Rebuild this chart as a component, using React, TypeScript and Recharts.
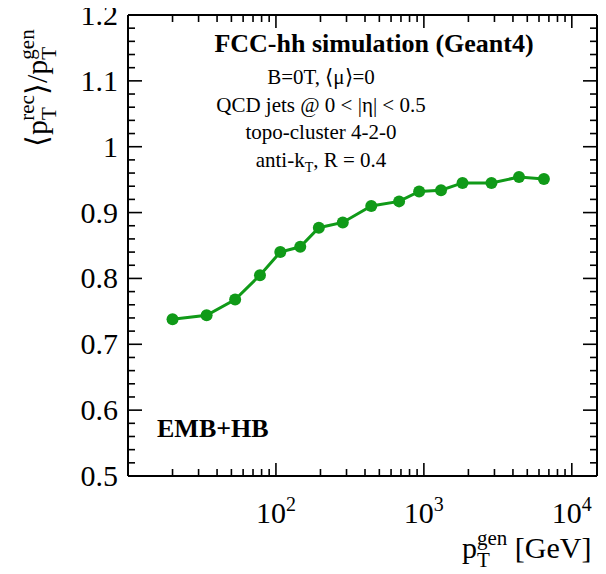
import { Line, LineChart, XAxis, YAxis } from "recharts"

// pT^gen bin centres [GeV] and mean response <pT^rec>/<pT^gen>
const ptGen = [20, 34, 53, 78, 107, 146, 195, 283, 441, 680, 929, 1306, 1825, 2862, 4397, 6478]
const response = [0.738, 0.744, 0.768, 0.805, 0.84, 0.848, 0.877, 0.885, 0.91, 0.917, 0.932, 0.934, 0.945, 0.945, 0.954, 0.951]

const xTicks = [
  20, 30, 40, 50, 60, 70, 80, 90, 100,
  200, 300, 400, 500, 600, 700, 800, 900, 1000,
  2000, 3000, 4000, 5000, 6000, 7000, 8000, 9000, 10000,
]
const xMajor = [100, 1000, 10000]
const xMajorExp = ["2", "3", "4"]

const yTicks = [
  0.5, 0.52, 0.54, 0.56, 0.58, 0.6, 0.62, 0.64, 0.66, 0.68, 0.7, 0.72, 0.74, 0.76, 0.78,
  0.8, 0.82, 0.84, 0.86, 0.88, 0.9, 0.92, 0.94, 0.96, 0.98, 1, 1.02, 1.04, 1.06, 1.08,
  1.1, 1.12, 1.14, 1.16, 1.18, 1.2,
]
const yMajor = [0.5, 0.6, 0.7, 0.8, 0.9, 1, 1.1, 1.2]
const yMajorLabels = ["0.5", "0.6", "0.7", "0.8", "0.9", "1", "1.1", "1.2"]

const rows = ptGen.map((pt, i) => ({ pt, ratio: response[i] }))

const FONT = "'Liberation Serif', 'Times New Roman', serif"
const GREEN = "#109a18"
const MAJOR = 13
const MINOR = 7

const isMajor = (list: number[], v: number) => list.findIndex((m) => Math.abs(m - v) < 1e-6)

const BottomTick = ({ x, y, payload }: any) => {
  const idx = isMajor(xMajor, payload.value)
  return (
    <g>
      <line x1={x} x2={x} y1={y} y2={y - (idx >= 0 ? MAJOR : MINOR)} stroke="#000" strokeWidth={1.6} />
      {idx >= 0 && (
        <text x={x} y={y + 47} textAnchor="middle" fontFamily={FONT} fontSize={30} fill="#000">
          10
          <tspan dy={-12} fontSize={20}>
            {xMajorExp[idx]}
          </tspan>
        </text>
      )}
    </g>
  )
}

const TopTick = ({ x, y, payload }: any) => {
  const idx = isMajor(xMajor, payload.value)
  return <line x1={x} x2={x} y1={y} y2={y + (idx >= 0 ? MAJOR : MINOR)} stroke="#000" strokeWidth={1.6} />
}

const LeftTick = ({ x, y, payload }: any) => {
  const idx = isMajor(yMajor, payload.value)
  return (
    <g>
      <line x1={x} x2={x + (idx >= 0 ? MAJOR + 1 : MINOR)} y1={y} y2={y} stroke="#000" strokeWidth={1.6} />
      {idx >= 0 && (
        <text x={x - 10} y={y + 10} textAnchor="end" fontFamily={FONT} fontSize={30} fill="#000">
          {yMajorLabels[idx]}
        </text>
      )}
    </g>
  )
}

const RightTick = ({ x, y, payload }: any) => {
  const idx = isMajor(yMajor, payload.value)
  return <line x1={x} x2={x - (idx >= 0 ? MAJOR + 1 : MINOR)} y1={y} y2={y} stroke="#000" strokeWidth={1.6} />
}

const axisLine = { stroke: "#000", strokeWidth: 2 }

export default function App() {
  return (
    <div style={{ position: "relative", width: 606, height: 574, margin: "-8px 0 0 -8px" }}>
      <LineChart width={606} height={574} data={rows} margin={{ top: 0, right: 0, bottom: 0, left: 0 }}>
        <XAxis
          xAxisId="bottom"
          dataKey="pt"
          type="number"
          scale="log"
          domain={[10, 14800]}
          allowDataOverflow
          ticks={xTicks}
          interval={0}
          tick={(p: any) => <BottomTick {...p} />}
          tickLine={false}
          tickSize={0}
          tickMargin={0}
          axisLine={axisLine}
          height={98}
        />
        <XAxis
          xAxisId="top"
          orientation="top"
          dataKey="pt"
          type="number"
          scale="log"
          domain={[10, 14800]}
          allowDataOverflow
          ticks={xTicks}
          interval={0}
          tick={(p: any) => <TopTick {...p} />}
          tickLine={false}
          tickSize={0}
          tickMargin={0}
          axisLine={axisLine}
          height={15}
        />
        <YAxis
          yAxisId="left"
          type="number"
          domain={[0.5, 1.2]}
          allowDataOverflow
          ticks={yTicks}
          interval={0}
          tick={(p: any) => <LeftTick {...p} />}
          tickLine={false}
          tickSize={0}
          tickMargin={0}
          axisLine={axisLine}
          width={128}
        />
        <YAxis
          yAxisId="right"
          orientation="right"
          type="number"
          domain={[0.5, 1.2]}
          allowDataOverflow
          ticks={yTicks}
          interval={0}
          tick={(p: any) => <RightTick {...p} />}
          tickLine={false}
          tickSize={0}
          tickMargin={0}
          axisLine={axisLine}
          width={9}
        />
        <Line
          xAxisId="top"
          yAxisId="right"
          dataKey="ratio"
          stroke="none"
          dot={false}
          activeDot={false}
          isAnimationActive={false}
        />
        <Line
          xAxisId="bottom"
          yAxisId="left"
          dataKey="ratio"
          stroke={GREEN}
          strokeWidth={3}
          dot={{ r: 6, fill: GREEN, stroke: GREEN, strokeWidth: 0 }}
          activeDot={false}
          isAnimationActive={false}
        />
      </LineChart>
      <svg
        width={606}
        height={574}
        style={{ position: "absolute", left: 0, top: 0, pointerEvents: "none" }}
        fontFamily={FONT}
        fill="#000"
      >
        <text x={374} y={52} textAnchor="middle" fontSize={26} fontWeight="bold">
          FCC-hh simulation (Geant4)
        </text>
        <text x={321} y={84} textAnchor="middle" fontSize={21}>
          B=0T, ⟨μ⟩=0
        </text>
        <text x={321} y={111.5} textAnchor="middle" fontSize={21}>
          QCD jets @ 0 &lt; |η| &lt; 0.5
        </text>
        <text x={321} y={139} textAnchor="middle" fontSize={21}>
          topo-cluster 4-2-0
        </text>
        <text x={321} y={166.5} textAnchor="middle" fontSize={21}>
          anti-k
          <tspan dy={5} fontSize={14}>
            T
          </tspan>
          <tspan dy={-5}>, R = 0.4</tspan>
        </text>
        <text x={157} y={437} fontSize={26} fontWeight="bold">
          EMB+HB
        </text>
        <text x={462} y={558} fontSize={30}>
          p
          <tspan dy={9} fontSize={21}>
            T
          </tspan>
          <tspan dx={-12.8} dy={-22} fontSize={21}>
            gen
          </tspan>
          <tspan dy={13}> [GeV]</tspan>
        </text>
        <text transform="rotate(-90)" x={-147} y={47} fontSize={30}>
          ⟨p
          <tspan dy={9} fontSize={21}>
            T
          </tspan>
          <tspan dx={-12.8} dy={-22} fontSize={21}>
            rec
          </tspan>
          <tspan dy={13}>⟩/p</tspan>
          <tspan dy={9} fontSize={21}>
            T
          </tspan>
          <tspan dx={-12.8} dy={-22} fontSize={21}>
            gen
          </tspan>
        </text>
      </svg>
    </div>
  )
}
